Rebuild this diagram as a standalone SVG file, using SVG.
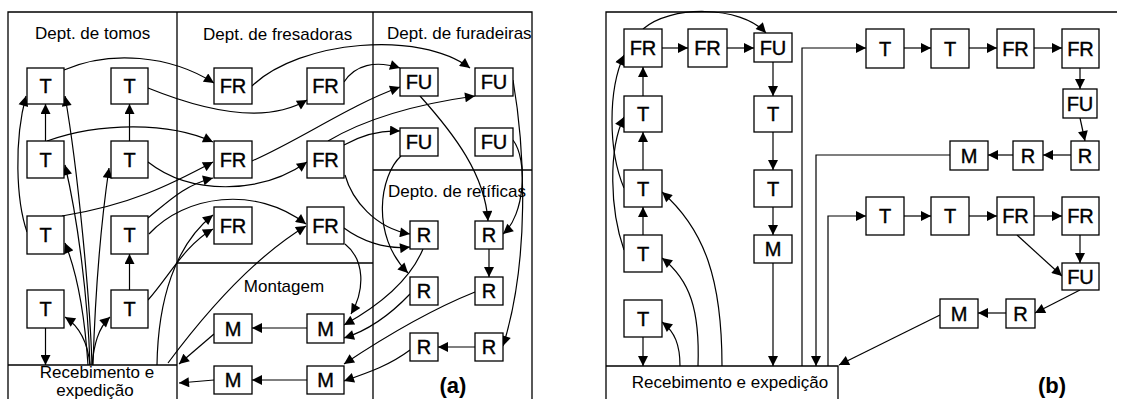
<svg xmlns="http://www.w3.org/2000/svg" width="1124" height="399" viewBox="0 0 1124 399">
<style>
.frame{fill:none;stroke:#000;stroke-width:1.3}
.box{fill:#fff;stroke:#000;stroke-width:1.3}
.lbl{font-family:"Liberation Sans",Arial,sans-serif;font-size:20px;text-anchor:middle;fill:#000;stroke:#000;stroke-width:0.4}
.ttl{font-family:"Liberation Sans",Arial,sans-serif;font-size:17px;fill:#000}
.big{font-family:"Liberation Sans",Arial,sans-serif;font-size:22px;font-weight:bold;text-anchor:middle;fill:#000}
.c{fill:none;stroke:#000;stroke-width:1.2;marker-end:url(#ah)}
</style>
<defs>
<marker id="ah" viewBox="0 0 10 10" refX="10" refY="5" markerWidth="12" markerHeight="10" markerUnits="userSpaceOnUse" orient="auto"><path d="M0,0 L10,5 L0,10 z" fill="#000"/></marker>
</defs>
<rect width="1124" height="399" fill="#fff"/>

<g id="frame-a">
<path class="frame" d="M8,399 V12 H532 V399 M177,12 V399 M373,12 V399 M373,170 H532 M177,263 H373"/>
<text class="ttl" x="35" y="39">Dept. de tomos</text>
<text class="ttl" x="203" y="40">Dept. de fresadoras</text>
<text class="ttl" x="387" y="39">Dept. de furadeiras</text>
<text class="ttl" x="388" y="197">Depto. de retíficas</text>
<text class="ttl" x="284" y="292" text-anchor="middle">Montagem</text>
<text class="big" x="453" y="393">(a)</text>
</g>
<g id="rec-a">
<path class="frame" d="M8,365 H177"/>
<text class="ttl" x="97" y="378" text-anchor="middle">Recebimento e</text>
<text class="ttl" x="95" y="396" text-anchor="middle">expedição</text>
</g>

<g id="frame-b">
<path class="frame" d="M606,399 V12 H1117"/>
<text class="big" x="1052" y="393">(b)</text>
</g>
<g id="rec-b">
<path class="frame" d="M606,366 H838 V399"/>
<text class="ttl" x="730" y="388" text-anchor="middle">Recebimento e expedição</text>
</g>

<g id="connectors">
<path class="c" d="M45.5,141 V104"/>
<path class="c" d="M129.5,141 V104"/>
<path class="c" d="M129.5,290 V254"/>
<path class="c" d="M45.5,328 V365"/>
<path class="c" d="M489,249 V277"/>
<path class="c" d="M475,347 H438"/>
<path class="c" d="M307,328 H252"/>
<path class="c" d="M307,380 H252"/>
<path class="c" d="M214,380 L179,383"/>
<path class="c" d="M214,334 L179,364"/>
<path class="c" d="M64,70 C110,50 170,55 214,83"/>
<path class="c" d="M148,88 C190,105 260,128 307,100"/>
<path class="c" d="M47,141 C100,122 170,122 213,142"/>
<path class="c" d="M62,216 C130,205 170,185 213,162"/>
<path class="c" d="M148,218 C170,200 185,185 213,178"/>
<path class="c" d="M148,162 C190,195 260,195 307,162"/>
<path class="c" d="M149,234 C185,195 255,185 306,224"/>
<path class="c" d="M148,300 C170,275 185,245 213,229"/>
<path class="c" d="M157,365 C158,300 175,245 213,215"/>
<path class="c" d="M168,363 C200,320 250,260 306,226"/>
<path class="c" d="M252,86 C300,40 420,30 470,68"/>
<path class="c" d="M344,82 C355,65 375,60 400,68"/>
<path class="c" d="M252,161 C300,140 350,105 400,87"/>
<path class="c" d="M328,141 C360,122 410,105 475,96"/>
<path class="c" d="M344,145 C362,135 380,130 400,131"/>
<path class="c" d="M345,175 C352,200 375,228 410,234"/>
<path class="c" d="M344,228 C360,240 385,250 410,247"/>
<path class="c" d="M345,244 C365,260 365,290 351,314"/>
<path class="c" d="M420,96 C455,135 485,175 488,221"/>
<path class="c" d="M513,80 C525,150 530,260 503,346"/>
<path class="c" d="M513,140 C528,160 525,215 503,234"/>
<path class="c" d="M401,156 C380,175 370,235 408,273"/>
<path class="c" d="M423,249 C410,280 380,305 344,325"/>
<path class="c" d="M410,294 C390,315 370,330 344,338"/>
<path class="c" d="M475,292 C430,310 380,340 344,364"/>
<path class="c" d="M410,350 C390,365 370,372 344,381"/>
<path class="c" d="M92,365 C90,300 78,170 65,96"/>
<path class="c" d="M90,365 C88,300 78,220 65,165"/>
<path class="c" d="M93,365 C95,300 100,230 109,168"/>
<path class="c" d="M88,365 C85,320 78,275 65,243"/>
<path class="c" d="M90,365 C88,345 82,328 65,317"/>
<path class="c" d="M92,365 C94,345 98,328 110,317"/>
<path class="c" d="M27,232 C16,200 14,140 26,96"/>
<path class="c" d="M643,337 V366"/>
<path class="c" d="M643,235 V207"/>
<path class="c" d="M643,170 V132"/>
<path class="c" d="M643,96 V67"/>
<path class="c" d="M662,48 H688"/>
<path class="c" d="M727,48 H754"/>
<path class="c" d="M773,62 V96"/>
<path class="c" d="M773,132 V170"/>
<path class="c" d="M773,207 V235"/>
<path class="c" d="M773,263 V366"/>
<path class="c" d="M643,29 C670,5 740,5 766,33"/>
<path class="c" d="M624,250 C610,210 608,150 624,117"/>
<path class="c" d="M624,188 C608,150 608,90 624,55"/>
<path class="c" d="M680,366 C680,345 675,332 662,322"/>
<path class="c" d="M698,366 C700,310 690,280 662,258"/>
<path class="c" d="M722,366 C722,280 705,230 662,192"/>
<path class="c" d="M802,366 V48 H866"/>
<path class="c" d="M950,155 H816 V366"/>
<path class="c" d="M828,366 V216 H866"/>
<path class="c" d="M904,48 H931"/>
<path class="c" d="M969,48 H997"/>
<path class="c" d="M1034,48 H1062"/>
<path class="c" d="M1080,68 V89"/>
<path class="c" d="M1080,118 L1085,141"/>
<path class="c" d="M1071,155 H1043"/>
<path class="c" d="M1013,155 H988"/>
<path class="c" d="M904,216 H931"/>
<path class="c" d="M969,216 H997"/>
<path class="c" d="M1034,216 H1062"/>
<path class="c" d="M1080,235 V263"/>
<path class="c" d="M1017,235 L1062,276"/>
<path class="c" d="M1080,290 L1035,313"/>
<path class="c" d="M1006,313 H978"/>
<path class="c" d="M940,315 L839,365"/>
</g>

<g id="a-T1"><rect class="box" x="27" y="68" width="37" height="36"/><text class="lbl" x="45.5" y="93">T</text></g>
<g id="a-T2"><rect class="box" x="111" y="68" width="37" height="36"/><text class="lbl" x="129.5" y="93">T</text></g>
<g id="a-T3"><rect class="box" x="27" y="141" width="37" height="37"/><text class="lbl" x="45.5" y="167">T</text></g>
<g id="a-T4"><rect class="box" x="111" y="141" width="37" height="37"/><text class="lbl" x="129.5" y="167">T</text></g>
<g id="a-T5"><rect class="box" x="27" y="216" width="37" height="38"/><text class="lbl" x="45.5" y="242">T</text></g>
<g id="a-T6"><rect class="box" x="111" y="216" width="37" height="38"/><text class="lbl" x="129.5" y="242">T</text></g>
<g id="a-T7"><rect class="box" x="27" y="290" width="37" height="38"/><text class="lbl" x="45.5" y="316">T</text></g>
<g id="a-T8"><rect class="box" x="111" y="290" width="37" height="38"/><text class="lbl" x="129.5" y="316">T</text></g>
<g id="a-FR11"><rect class="box" x="214" y="68" width="38" height="36"/><text class="lbl" x="233" y="93">FR</text></g>
<g id="a-FR12"><rect class="box" x="307" y="68" width="37" height="36"/><text class="lbl" x="325.5" y="93">FR</text></g>
<g id="a-FR21"><rect class="box" x="214" y="141" width="38" height="37"/><text class="lbl" x="233" y="167">FR</text></g>
<g id="a-FR22"><rect class="box" x="307" y="141" width="37" height="37"/><text class="lbl" x="325.5" y="167">FR</text></g>
<g id="a-FR31"><rect class="box" x="214" y="207" width="38" height="37"/><text class="lbl" x="233" y="233">FR</text></g>
<g id="a-FR32"><rect class="box" x="307" y="207" width="37" height="37"/><text class="lbl" x="325.5" y="233">FR</text></g>
<g id="a-FU11"><rect class="box" x="400" y="68" width="38" height="28"/><text class="lbl" x="419" y="89">FU</text></g>
<g id="a-FU12"><rect class="box" x="475" y="68" width="38" height="28"/><text class="lbl" x="494" y="89">FU</text></g>
<g id="a-FU21"><rect class="box" x="400" y="128" width="38" height="28"/><text class="lbl" x="419" y="149">FU</text></g>
<g id="a-FU22"><rect class="box" x="475" y="128" width="38" height="28"/><text class="lbl" x="494" y="149">FU</text></g>
<g id="a-R11"><rect class="box" x="410" y="221" width="28" height="28"/><text class="lbl" x="424" y="242">R</text></g>
<g id="a-R12"><rect class="box" x="475" y="221" width="28" height="28"/><text class="lbl" x="489" y="242">R</text></g>
<g id="a-R21"><rect class="box" x="410" y="277" width="28" height="28"/><text class="lbl" x="424" y="298">R</text></g>
<g id="a-R22"><rect class="box" x="475" y="277" width="28" height="28"/><text class="lbl" x="489" y="298">R</text></g>
<g id="a-R31"><rect class="box" x="410" y="333" width="28" height="28"/><text class="lbl" x="424" y="354">R</text></g>
<g id="a-R32"><rect class="box" x="475" y="333" width="28" height="28"/><text class="lbl" x="489" y="354">R</text></g>
<g id="a-M11"><rect class="box" x="214" y="314" width="38" height="29"/><text class="lbl" x="233" y="335.5">M</text></g>
<g id="a-M12"><rect class="box" x="307" y="314" width="37" height="29"/><text class="lbl" x="325.5" y="335.5">M</text></g>
<g id="a-M21"><rect class="box" x="214" y="366" width="38" height="28"/><text class="lbl" x="233" y="387">M</text></g>
<g id="a-M22"><rect class="box" x="307" y="366" width="37" height="28"/><text class="lbl" x="325.5" y="387">M</text></g>

<g id="b-FR1"><rect class="box" x="624" y="29" width="38" height="38"/><text class="lbl" x="643" y="55">FR</text></g>
<g id="b-FR2"><rect class="box" x="688" y="29" width="39" height="38"/><text class="lbl" x="707.5" y="55">FR</text></g>
<g id="b-FU"><rect class="box" x="754" y="33" width="38" height="29"/><text class="lbl" x="773" y="54.5">FU</text></g>
<g id="b-T1"><rect class="box" x="624" y="96" width="38" height="36"/><text class="lbl" x="643" y="121">T</text></g>
<g id="b-T2"><rect class="box" x="624" y="170" width="38" height="37"/><text class="lbl" x="643" y="196">T</text></g>
<g id="b-T3"><rect class="box" x="624" y="235" width="38" height="37"/><text class="lbl" x="643" y="261">T</text></g>
<g id="b-T4"><rect class="box" x="624" y="300" width="38" height="37"/><text class="lbl" x="643" y="326">T</text></g>
<g id="b-T5"><rect class="box" x="754" y="96" width="38" height="36"/><text class="lbl" x="773" y="121">T</text></g>
<g id="b-T6"><rect class="box" x="754" y="170" width="38" height="37"/><text class="lbl" x="773" y="196">T</text></g>
<g id="b-M1"><rect class="box" x="754" y="235" width="38" height="28"/><text class="lbl" x="773" y="256">M</text></g>
<g id="b-r1T1"><rect class="box" x="866" y="29" width="38" height="39"/><text class="lbl" x="885" y="55.5">T</text></g>
<g id="b-r1T2"><rect class="box" x="931" y="29" width="38" height="39"/><text class="lbl" x="950" y="55.5">T</text></g>
<g id="b-r1FR1"><rect class="box" x="997" y="29" width="37" height="39"/><text class="lbl" x="1015.5" y="55.5">FR</text></g>
<g id="b-r1FR2"><rect class="box" x="1062" y="29" width="37" height="39"/><text class="lbl" x="1080.5" y="55.5">FR</text></g>
<g id="b-r1FU"><rect class="box" x="1063" y="89" width="34" height="29"/><text class="lbl" x="1080" y="110.5">FU</text></g>
<g id="b-r1R2"><rect class="box" x="1071" y="141" width="28" height="29"/><text class="lbl" x="1085" y="162.5">R</text></g>
<g id="b-r1R1"><rect class="box" x="1013" y="141" width="30" height="29"/><text class="lbl" x="1028" y="162.5">R</text></g>
<g id="b-r1M"><rect class="box" x="950" y="141" width="38" height="29"/><text class="lbl" x="969" y="162.5">M</text></g>
<g id="b-r2T1"><rect class="box" x="866" y="197" width="38" height="38"/><text class="lbl" x="885" y="223">T</text></g>
<g id="b-r2T2"><rect class="box" x="931" y="197" width="38" height="38"/><text class="lbl" x="950" y="223">T</text></g>
<g id="b-r2FR1"><rect class="box" x="997" y="197" width="37" height="38"/><text class="lbl" x="1015.5" y="223">FR</text></g>
<g id="b-r2FR2"><rect class="box" x="1062" y="197" width="37" height="38"/><text class="lbl" x="1080.5" y="223">FR</text></g>
<g id="b-r2FU"><rect class="box" x="1062" y="263" width="37" height="27"/><text class="lbl" x="1080.5" y="283.5">FU</text></g>
<g id="b-r2R"><rect class="box" x="1006" y="299" width="29" height="29"/><text class="lbl" x="1020.5" y="320.5">R</text></g>
<g id="b-r2M"><rect class="box" x="940" y="299" width="38" height="29"/><text class="lbl" x="959" y="320.5">M</text></g>
</svg>
